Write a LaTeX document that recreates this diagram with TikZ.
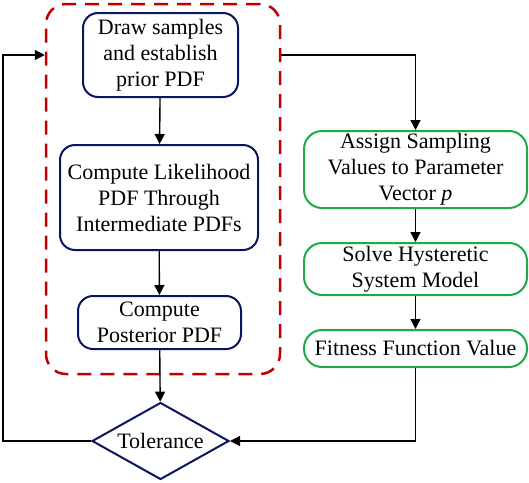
\documentclass[tikz,border=0pt]{standalone}
\usepackage{fontspec}
\setmainfont{Liberation Serif}
\usetikzlibrary{arrows.meta,shapes.geometric}
\definecolor{navy}{RGB}{10,22,96}
\definecolor{grn}{RGB}{30,170,70}
\definecolor{dred}{RGB}{192,0,0}
\begin{document}
\begin{tikzpicture}[x=1pt,y=-1pt,
  txt/.style={font=\fontsize{22}{26}\selectfont, align=center, inner sep=0pt},
  bluebox/.style={txt, draw=navy, line width=2pt, rounded corners=15pt},
  greenbox/.style={txt, draw=grn, line width=2pt, rounded corners=18pt},
  arr/.style={draw=black, line width=1.4pt, -{Triangle[length=10pt,width=10pt]}},
  ln/.style={draw=black, line width=1.4pt}]
\useasboundingbox (0,0) rectangle (529,482);
\node[draw=dred, line width=2.5pt, dash pattern=on 14pt off 9pt, rounded corners=20pt,
  minimum width=234pt, minimum height=370pt, inner sep=0pt] (grp) at (163,189) {};
\node[bluebox, minimum width=155pt, minimum height=84pt] (b1) at (160.5,55) {Draw samples\\and establish\\prior PDF};
\node[bluebox, minimum width=198pt, minimum height=105pt] (b2) at (159,197.5) {Compute Likelihood\\PDF Through\\Intermediate PDFs};
\node[bluebox, minimum width=163pt, minimum height=53pt] (b3) at (159.5,322.5) {Compute\\Posterior PDF};
\node[txt, draw=navy, line width=2pt, shape=diamond, aspect=1.78, minimum width=137pt, minimum height=77pt] (tol) at (160.5,441) {Tolerance};
\node[greenbox, minimum width=223pt, minimum height=77pt] (g1) at (415.5,169.5) {Assign Sampling\\Values to Parameter\\Vector \textit{p}};
\node[greenbox, minimum width=223pt, minimum height=52pt] (g2) at (415.5,269) {Solve Hysteretic\\System Model};
\node[greenbox, minimum width=223pt, minimum height=37pt] (g3) at (415.5,348.5) {Fitness Function Value};
\coordinate (rt) at (415.5,55);
\coordinate (lb) at (3,441);
\coordinate (lt) at (3,55);
\coordinate (rb) at (415.5,441);
\draw[arr] (b1) -- (b2);
\draw[arr] (b2) -- (b3);
\draw[arr] (b3) -- (tol);
\draw[arr] (g1) -- (g2);
\draw[arr] (g2) -- (g3);
\draw[arr] (grp.east |- rt) -- (rt) -- (g1.north);
\draw[arr] (g3.south) -- (rb) -- (tol.east);
\draw[arr] (tol.west) -- (lb) -- (lt) -- (grp.west |- lt);
\end{tikzpicture}
\end{document}
